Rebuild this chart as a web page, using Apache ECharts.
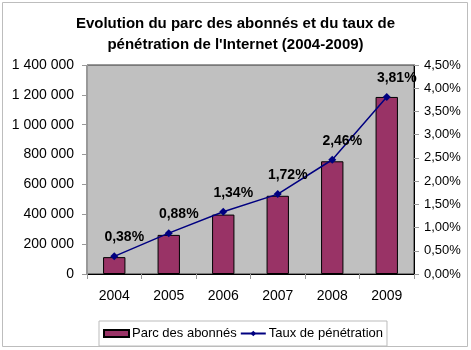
<!DOCTYPE html>
<html>
<head>
<meta charset="utf-8">
<title>Parc des abonnés Internet</title>
<script src="https://cdn.jsdelivr.net/npm/echarts@6/dist/echarts.min.js"></script>
</head>
<body style="margin:0">
<div id="main" style="width:471px;height:350px"></div>
<script>
// données
var years = ['2004', '2005', '2006', '2007', '2008', '2009'];
var abonnes = [113000, 262000, 398000, 524000, 755000, 1186000];
var taux = [0.38, 0.88, 1.34, 1.72, 2.46, 3.81];

var font = 'Liberation Sans, Arial, sans-serif';

function milliers(v) {
    return String(v).replace(/\B(?=(\d{3})+(?!\d))/g, ' ');
}

var chart = echarts.init(document.getElementById('main'));
chart.setOption({
    animation: false,
    backgroundColor: '#fff',
    textStyle: { fontFamily: font },
    title: {
        text: "Evolution du parc des abonnés et du taux de\npénétration de l'Internet (2004-2009)",
        left: 'center',
        top: 8,
        textStyle: { fontSize: 15, fontWeight: 'bold', color: '#000', lineHeight: 21, fontFamily: font }
    },
    graphic: [{
        type: 'rect',
        shape: { x: 2.5, y: 2.5, width: 465, height: 344 },
        style: { fill: 'none', stroke: '#bdbdbd', lineWidth: 1 }
    }],
    grid: {
        left: 87, right: 57, top: 65, bottom: 76,
        show: true, backgroundColor: '#c0c0c0', borderColor: '#333', borderWidth: 1
    },
    legend: {
        bottom: 4,
        left: 99,
        padding: [6, 4],
        itemGap: 3,
        itemWidth: 25,
        itemHeight: 7,
        borderColor: '#bbb',
        borderWidth: 1,
        textStyle: { fontSize: 13, color: '#000', fontFamily: font, padding: [0, 0, 0, -2] },
        data: [
            { name: 'Parc des abonnés', icon: 'rect' },
            { name: 'Taux de pénétration' }
        ]
    },
    xAxis: {
        type: 'category',
        data: years,
        axisLine: { lineStyle: { color: '#000' } },
        axisTick: { show: true, length: 5, lineStyle: { color: '#999' } },
        axisLabel: { fontSize: 14, color: '#000', margin: 15 }
    },
    yAxis: [{
        type: 'value',
        min: 0, max: 1400000, interval: 200000,
        splitLine: { show: false },
        axisLine: { show: true, lineStyle: { color: '#999' } },
        axisTick: { show: true, length: 5, lineStyle: { color: '#999' } },
        axisLabel: { fontSize: 14, color: '#000', margin: 13, formatter: milliers }
    }, {
        type: 'value',
        min: 0, max: 4.5, interval: 0.5,
        splitLine: { show: false },
        axisLine: { show: true, lineStyle: { color: '#000' } },
        axisTick: { show: true, length: 5, lineStyle: { color: '#999' } },
        axisLabel: {
            fontSize: 13, color: '#000', margin: 10,
            formatter: function (v) { return v.toFixed(2).replace('.', ',') + '%'; }
        }
    }],
    series: [{
        name: 'Parc des abonnés',
        type: 'bar',
        data: abonnes,
        barWidth: '41%',
        itemStyle: { color: '#993366', borderColor: '#000', borderWidth: 1 }
    }, {
        name: 'Taux de pénétration',
        type: 'line',
        yAxisIndex: 1,
        data: taux,
        symbol: 'diamond',
        symbolSize: 8,
        lineStyle: { color: '#000080', width: 1.5 },
        itemStyle: { color: '#000080' },
        label: {
            show: true,
            position: 'top',
            offset: [10, -3],
            fontSize: 14,
            fontWeight: 'bold',
            color: '#000',
            fontFamily: font,
            formatter: function (p) { return p.value.toFixed(2).replace('.', ',') + '%'; }
        }
    }]
});
</script>
</body>
</html>
